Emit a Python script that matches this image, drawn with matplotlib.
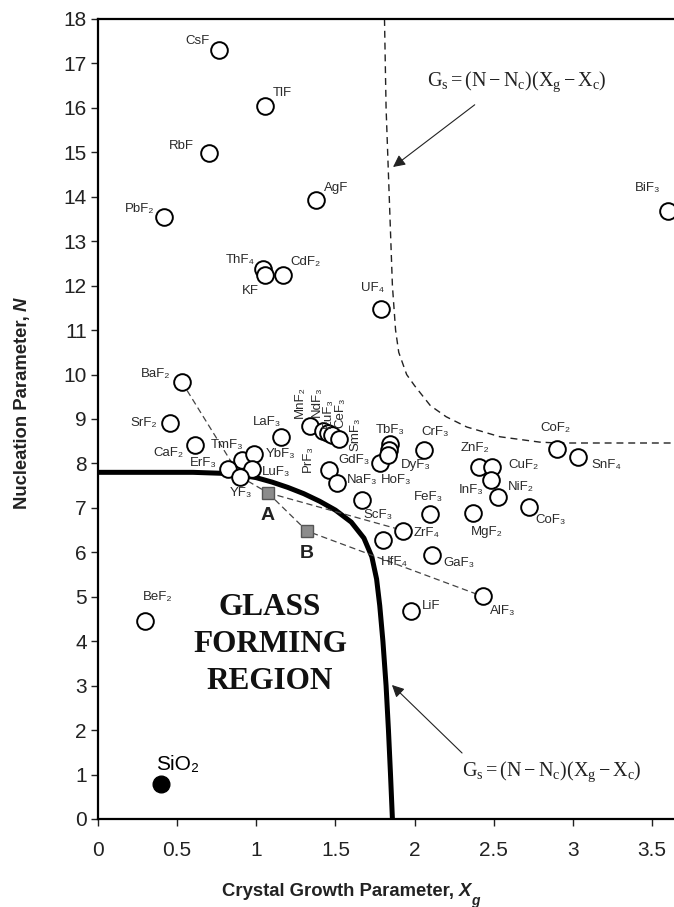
import matplotlib
matplotlib.use('Agg')
import matplotlib.pyplot as plt

plt.rcParams['font.family'] = ['Liberation Sans', 'DejaVu Sans']
plt.rcParams['mathtext.fontset'] = 'custom'
plt.rcParams['mathtext.rm'] = 'Liberation Serif'
plt.rcParams['mathtext.it'] = 'Liberation Serif:italic'

# ---------------- data ----------------
compounds = ['CsF', 'TlF', 'RbF', 'AgF', 'PbF₂', 'BiF₃', 'ThF₄', 'KF', 'CdF₂', 'UF₄',
             'BaF₂', 'SrF₂', 'CaF₂', 'LaF₃', 'TmF₃', 'YbF₃', 'ErF₃', 'LuF₃', 'YF₃',
             'MnF₂', 'NdF₃', 'EuF₃', 'CeF₃', 'SmF₃', 'PrF₃', 'NaF₃', 'GdF₃', 'TbF₃',
             'HoF₃', 'DyF₃', 'CrF₃', 'ZnF₂', 'CuF₂', 'InF₃', 'NiF₂', 'FeF₃', 'MgF₂',
             'ScF₃', 'ZrF₄', 'HfF₄', 'GaF₃', 'CoF₂', 'SnF₄', 'CoF₃', 'AlF₃', 'LiF', 'BeF₂']
growth_x = [0.765, 1.055, 0.70, 1.38, 0.42, 3.60, 1.04, 1.055, 1.17, 1.79,
            0.53, 0.455, 0.61, 1.155, 0.91, 0.985, 0.82, 0.97, 0.90,
            1.34, 1.42, 1.45, 1.48, 1.52, 1.46, 1.51, 1.78, 1.845,
            1.84, 1.835, 2.06, 2.41, 2.49, 2.48, 2.53, 2.10, 2.37,
            1.67, 1.93, 1.80, 2.11, 2.90, 3.03, 2.72, 2.43, 1.98, 0.30]
nucleation_n = [17.3, 16.05, 14.98, 13.93, 13.55, 13.68, 12.38, 12.25, 12.25, 11.47,
                9.83, 8.91, 8.42, 8.60, 8.08, 8.21, 7.88, 7.88, 7.70,
                8.84, 8.72, 8.68, 8.64, 8.56, 7.85, 7.56, 8.00, 8.44,
                8.30, 8.19, 8.30, 7.93, 7.93, 7.63, 7.24, 6.86, 6.88,
                7.18, 6.49, 6.27, 5.94, 8.33, 8.14, 7.02, 5.01, 4.67, 4.46]

silica_name = 'SiO₂'
silica_x = [0.40]
silica_n = [0.79]

sample_names = ['A', 'B']
sample_x = [1.073, 1.32]
sample_n = [7.34, 6.48]

# glass-forming boundary (thick solid)
boundary_x = [0.0, 0.6, 0.85, 1.0, 1.1, 1.2, 1.3, 1.4, 1.5, 1.6, 1.68, 1.73,
              1.76, 1.78, 1.80, 1.82, 1.835, 1.848, 1.86]
boundary_n = [7.80, 7.80, 7.77, 7.68, 7.58, 7.46, 7.32, 7.15, 6.95, 6.68, 6.32, 5.90,
              5.40, 4.80, 4.00, 3.00, 2.00, 1.00, 0.00]

# upper dashed boundary
upper_x = [1.81, 1.82, 1.84, 1.86, 1.88, 1.90, 1.95, 2.00, 2.10, 2.20, 2.33,
           2.54, 2.79, 2.90, 3.64]
upper_n = [18.0, 16.0, 14.0, 12.0, 11.0, 10.5, 10.0, 9.75, 9.30, 9.05, 8.82,
           8.60, 8.48, 8.46, 8.46]

# thin dashed tie lines (by point name)
tie_lines = [['BaF₂', 'YF₃', 'A'], ['A', 'ZrF₄'], ['A', 'B', 'AlF₃']]

equation = r'$\mathrm{G_s = (N - N_c)(X_g - X_c)}$'
x_ticks = [0, 0.5, 1, 1.5, 2, 2.5, 3, 3.5]
y_ticks = list(range(0, 19))

# label offsets (pixels, +dy = down) and rotation
label_pos = {
    'CsF': (-22, -9, 0), 'TlF': (17, -13, 0), 'RbF': (-27, -7, 0), 'AgF': (20, -12, 0),
    'PbF₂': (-25, -8, 0), 'BiF₃': (-20, -23, 0), 'ThF₄': (-22, -9, 0), 'KF': (-15, 16, 0),
    'CdF₂': (22, -13, 0), 'UF₄': (-9, -21, 0), 'BaF₂': (-26, -8, 0), 'SrF₂': (-26, 0, 0),
    'CaF₂': (-26, 8, 0), 'LaF₃': (-14, -15, 0), 'TmF₃': (-15, -15, 0), 'YbF₃': (27, 0, 0),
    'ErF₃': (-24, -6, 0), 'LuF₃': (25, 3, 0), 'YF₃': (0, 16, 0),
    'MnF₂': (-10, -24, 90), 'NdF₃': (-6, -30, 90), 'EuF₃': (0, -20, 90),
    'CeF₃': (8, -22, 90), 'SmF₃': (17, -4, 90), 'PrF₃': (-21, -12, 90),
    'NaF₃': (25, -3, 0), 'GdF₃': (-26, -3, 0), 'TbF₃': (0, -14, 0), 'HoF₃': (7, 30, 0),
    'DyF₃': (27, 10, 0), 'CrF₃': (11, -18, 0), 'ZnF₂': (-4, -19, 0), 'CuF₂': (31, -2, 0),
    'InF₃': (-19, 10, 0), 'NiF₂': (22, -10, 0), 'FeF₃': (-2, -17, 0), 'MgF₂': (14, 19, 0),
    'ScF₃': (16, 15, 0), 'ZrF₄': (23, 2, 0), 'HfF₄': (11, 22, 0), 'GaF₃': (27, 8, 0),
    'CoF₂': (-2, -21, 0), 'SnF₄': (29, 8, 0), 'CoF₃': (22, 13, 0), 'AlF₃': (20, 15, 0),
    'LiF': (20, -5, 0), 'BeF₂': (12, -24, 0),
}

# ---------------- figure ----------------
fig = plt.figure(figsize=(6.74, 9.07), dpi=100)
ax = fig.add_axes([98 / 674, 88 / 907, 1 - 98 / 674, 800 / 907])
ax.set_xlim(0, 3.639)
ax.set_ylim(0, 18)

for s in ['left', 'bottom', 'top']:
    ax.spines[s].set_linewidth(1.6)
ax.spines['right'].set_visible(False)
ax.set_xticks(x_ticks)
ax.set_xticklabels([f'{v:g}' for v in x_ticks])
ax.set_yticks(y_ticks)
ax.tick_params(direction='out', length=5, width=1, labelsize=15, colors='#222')
ax.tick_params(axis='x', pad=11)
ax.tick_params(axis='y', pad=3)

# curves
ax.plot(boundary_x, boundary_n, color='black', lw=3.6, zorder=2, solid_capstyle='butt')
ax.plot(upper_x, upper_n, color='#222', lw=1.0, ls=(0, (5, 3.5)), zorder=2)

coords = {n: (x, y) for n, x, y in zip(compounds, growth_x, nucleation_n)}
coords.update({n: (x, y) for n, x, y in zip(sample_names, sample_x, sample_n)})
for seq in tie_lines:
    xs = [coords[n][0] for n in seq]
    ys = [coords[n][1] for n in seq]
    ax.plot(xs, ys, color='#444', lw=0.9, ls=(0, (5, 3)), zorder=2)

# points
ax.plot(growth_x, nucleation_n, 'o', ms=12, mfc='white', mec='black', mew=1.4,
        zorder=4, clip_on=False)
ax.plot(silica_x, silica_n, 'o', ms=12, mfc='black', mec='black', zorder=4)
ax.plot(sample_x, sample_n, 's', ms=8.5, mfc='#8c8c8c', mec='#555', mew=1, zorder=4)

for n, x, y in zip(compounds, growth_x, nucleation_n):
    dx, dy, rot = label_pos[n]
    ax.annotate(n, (x, y), xytext=(dx * 0.72, -dy * 0.72), textcoords='offset points',
                ha='center', va='center', rotation=rot, fontsize=9.5, color='#2a2a2a',
                zorder=5)

ax.annotate(silica_name, (silica_x[0], silica_n[0]), xytext=(16 * 0.72, 19 * 0.72),
            textcoords='offset points', ha='center', va='center', fontsize=15, color='black')
for n, x, y in zip(sample_names, sample_x, sample_n):
    ax.annotate(n, (x, y), xytext=(0, -23 * 0.72), textcoords='offset points',
                ha='center', va='center', fontsize=14, fontweight='bold', color='#222')

# region label
ax.text(1.087, 3.92, 'GLASS\nFORMING\nREGION', ha='center', va='center',
        family='Liberation Serif', fontweight='bold', fontsize=22.5, linespacing=1.37,
        color='#111')

# equations and arrows
ax.text(2.647, 16.58, equation, ha='center', va='center', fontsize=14.5, color='#222')
ax.annotate('', xy=(1.864, 14.67), xytext=(2.38, 16.07),
            arrowprops=dict(arrowstyle='-|>', lw=0.8, color='#222', mutation_scale=18,
                            shrinkA=0, shrinkB=0))
ax.text(2.868, 1.06, equation, ha='center', va='center', fontsize=14.5, color='#222')
ax.annotate('', xy=(1.857, 3.015), xytext=(2.30, 1.485),
            arrowprops=dict(arrowstyle='-|>', lw=0.8, color='#222', mutation_scale=18,
                            shrinkA=0, shrinkB=0))

# axis labels (plain bold + bold italic symbol)
lab_size = 13.3
xl = fig.text(222 / 674, 1 - 896 / 907, 'Crystal Growth Parameter, ', ha='left',
              va='baseline', fontsize=lab_size, fontweight='bold', color='#222')
xg_anchor = ax.annotate('X', xy=(1, 0), xycoords=xl, ha='left', va='bottom',
                        fontsize=lab_size, fontweight='bold', style='italic', color='#222',
                        annotation_clip=False)
ax.annotate('g', xy=(1, 0), xycoords=xg_anchor, ha='left', va='top', fontsize=lab_size * 0.75,
            fontweight='bold', style='italic', color='#222', xytext=(0, 4),
            textcoords='offset points', annotation_clip=False)

yl = fig.text(22 / 674, 1 - 410 / 907, 'Nucleation Parameter, ', ha='center', va='center',
              rotation=90, fontsize=lab_size, fontweight='bold', color='#222')
ax.annotate('N', xy=(0.5, 1), xycoords=yl, ha='center', va='bottom', rotation=90,
            fontsize=lab_size, fontweight='bold', style='italic', color='#222',
            annotation_clip=False)

fig.savefig('out.png', dpi=100)
